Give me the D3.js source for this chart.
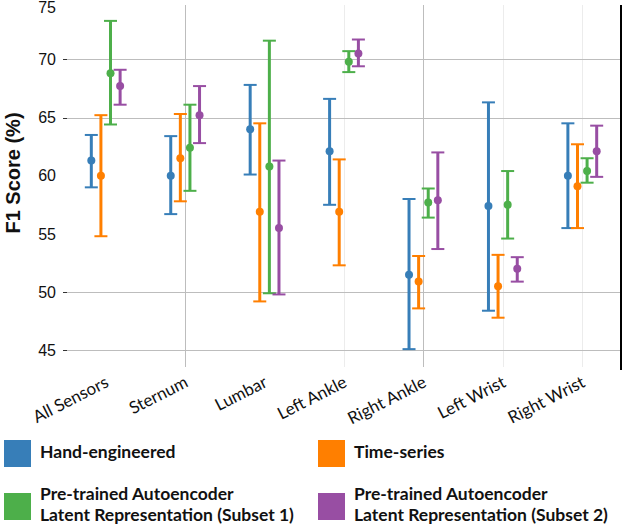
<!DOCTYPE html>
<html>
<head>
<meta charset="utf-8">
<script src="https://cdn.jsdelivr.net/npm/d3@7"></script>
<style>
  body { margin: 0; background: #fff; }
  svg { display: block; }
</style>
</head>
<body>
<svg id="chart" width="622" height="528"></svg>
<script>
// categories and series
var categories = ["All Sensors", "Sternum", "Lumbar", "Left Ankle", "Right Ankle", "Left Wrist", "Right Wrist"];
var seriesNames = ["Hand-engineered", "Time-series",
                   "Pre-trained Autoencoder|Latent Representation (Subset 1)",
                   "Pre-trained Autoencoder|Latent Representation (Subset 2)"];
var seriesColors = ["#377eb8", "#ff7f00", "#4daf4a", "#984ea3"];

// F1 score means and error bar ends
var handMean = [61.3, 60.0, 64.0, 62.1, 51.5, 57.4, 60.0];
var handLow  = [59.0, 56.7, 60.1, 57.5, 45.1, 48.4, 55.5];
var handHigh = [63.5, 63.4, 67.8, 66.6, 58.0, 66.3, 64.5];

var timeMean = [60.0, 61.5, 56.9, 56.9, 50.9, 50.5, 59.1];
var timeLow  = [54.8, 57.8, 49.2, 52.3, 48.6, 47.8, 55.5];
var timeHigh = [65.2, 65.3, 64.5, 61.4, 53.1, 53.2, 62.7];

var ae1Mean = [68.8, 62.4, 60.8, 69.8, 57.7, 57.5, 60.4];
var ae1Low  = [64.4, 58.7, 49.9, 68.9, 56.4, 54.6, 59.4];
var ae1High = [73.3, 66.1, 71.6, 70.7, 58.9, 60.4, 61.5];

var ae2Mean = [67.7, 65.2, 55.5, 70.5, 57.9, 52.0, 62.1];
var ae2Low  = [66.1, 62.8, 49.8, 69.4, 53.7, 50.9, 59.9];
var ae2High = [69.1, 67.7, 61.3, 71.7, 62.0, 53.0, 64.3];

var yTicks = [45, 50, 55, 60, 65, 70, 75];
var gridTicks = [45, 50, 65, 70];

// vertical gridline strength per category (as in the source figure)
var vGridColor = [null, "#bdbdbd", null, "#ececec", "#bdbdbd", "#ececec", "#ececec"];

var means = [handMean, timeMean, ae1Mean, ae2Mean];
var lows  = [handLow, timeLow, ae1Low, ae2Low];
var highs = [handHigh, timeHigh, ae1High, ae2High];

var svg = d3.select("#chart");

var plotRight = 621, plotTop = 5, plotBottom = 367;

var y = d3.scaleLinear().domain([45, 75]).range([350.3, 1.1]);
var x = d3.scaleBand().domain(categories).range([66, 622]);
var xs = d3.scaleBand().domain(d3.range(seriesNames.length)).range([-19.2, 19.2]);

function cx(i) { return x(categories[i]) + x.bandwidth() / 2; }

// vertical grid
svg.append("g").selectAll("line")
   .data(categories.filter(function(d, i) { return vGridColor[i]; }))
   .enter().append("line")
   .attr("x1", function(d) { return Math.round(x(d) + x.bandwidth() / 2) + 0.5; })
   .attr("x2", function(d) { return Math.round(x(d) + x.bandwidth() / 2) + 0.5; })
   .attr("y1", plotTop)
   .attr("y2", plotBottom)
   .attr("stroke", function(d) { return vGridColor[categories.indexOf(d)]; })
   .attr("stroke-width", 1);

// horizontal grid
svg.append("g").selectAll("line")
   .data(gridTicks)
   .enter().append("line")
   .attr("x1", 63)
   .attr("x2", plotRight)
   .attr("y1", function(d) { return Math.round(y(d)) + 0.5; })
   .attr("y2", function(d) { return Math.round(y(d)) + 0.5; })
   .attr("stroke", "#bdbdbd")
   .attr("stroke-width", 1);

// tick marks for the grid ticks
svg.append("g").selectAll("line")
   .data(gridTicks)
   .enter().append("line")
   .attr("x1", 63).attr("x2", 67)
   .attr("y1", function(d) { return Math.round(y(d)) + 0.5; })
   .attr("y2", function(d) { return Math.round(y(d)) + 0.5; })
   .attr("stroke", "#333");

// y tick labels
svg.append("g").selectAll("text")
   .data(yTicks)
   .enter().append("text")
   .attr("x", 56)
   .attr("y", function(d) { return Math.max(y(d), 7); })
   .attr("dy", "0.36em")
   .attr("text-anchor", "end")
   .style("font-family", "Liberation Sans, Arial, sans-serif")
   .style("font-size", "16px")
   .attr("fill", "#111")
   .text(function(d) { return d; });

// y label
svg.append("text")
   .attr("transform", "translate(20,173) rotate(-90)")
   .attr("text-anchor", "middle")
   .style("font-family", "Liberation Sans, Arial, sans-serif")
   .style("font-weight", "bold")
   .style("font-size", "20px")
   .attr("fill", "#111")
   .text("F1 Score (%)");

// right frame line
svg.append("line")
   .attr("x1", 621).attr("x2", 621)
   .attr("y1", plotTop).attr("y2", 370)
   .attr("stroke", "#000")
   .attr("stroke-width", 2);

// error bars
seriesNames.forEach(function(name, s) {
  var g = svg.append("g").attr("class", "series");
  var col = seriesColors[s];
  var rows = categories.map(function(c, i) {
    return { x: cx(i) + xs(s) + xs.bandwidth() / 2, m: means[s][i], lo: lows[s][i], hi: highs[s][i] };
  });

  g.selectAll(".stem").data(rows).enter().append("line")
   .attr("class", "stem")
   .attr("x1", function(d) { return d.x; })
   .attr("x2", function(d) { return d.x; })
   .attr("y1", function(d) { return y(d.lo); })
   .attr("y2", function(d) { return y(d.hi); })
   .attr("stroke", col)
   .attr("stroke-width", 3);

  ["lo", "hi"].forEach(function(k) {
    g.selectAll(".cap-" + k).data(rows).enter().append("line")
     .attr("class", "cap-" + k)
     .attr("x1", function(d) { return d.x - 6.5; })
     .attr("x2", function(d) { return d.x + 6.5; })
     .attr("y1", function(d) { return y(d[k]); })
     .attr("y2", function(d) { return y(d[k]); })
     .attr("stroke", col)
     .attr("stroke-width", 2);
  });

  g.selectAll("circle").data(rows).enter().append("circle")
   .attr("cx", function(d) { return d.x; })
   .attr("cy", function(d) { return y(d.m); })
   .attr("r", 4)
   .attr("fill", col);
});

// x labels
svg.append("g").selectAll("text")
   .data(categories)
   .enter().append("text")
   .attr("transform", function(d, i) { return "translate(" + (cx(i) + 4) + ",386) rotate(-27)"; })
   .attr("text-anchor", "end")
   .style("font-family", "Lato, sans-serif")
   .style("font-size", "17px")
   .attr("fill", "#111")
   .text(function(d) { return d; });

// legend
var legendPos = [[4, 440], [318, 440], [4, 493], [318, 493]];
var legend = svg.append("g").selectAll("g")
   .data(seriesNames)
   .enter().append("g")
   .attr("transform", function(d, i) { return "translate(" + legendPos[i] + ")"; });

legend.append("rect")
   .attr("width", 27).attr("height", 27)
   .attr("fill", function(d, i) { return seriesColors[i]; });

legend.each(function(d) {
  var lines = d.split("|");
  var t = d3.select(this).append("text")
     .style("font-family", "Lato, sans-serif")
     .style("font-weight", "bold")
     .style("font-size", "17.5px")
     .attr("fill", "#111");
  lines.forEach(function(l, j) {
    t.append("tspan")
     .attr("x", 36)
     .attr("y", lines.length == 1 ? 18 : 7 + j * 21)
     .text(l);
  });
});
</script>
</body>
</html>
